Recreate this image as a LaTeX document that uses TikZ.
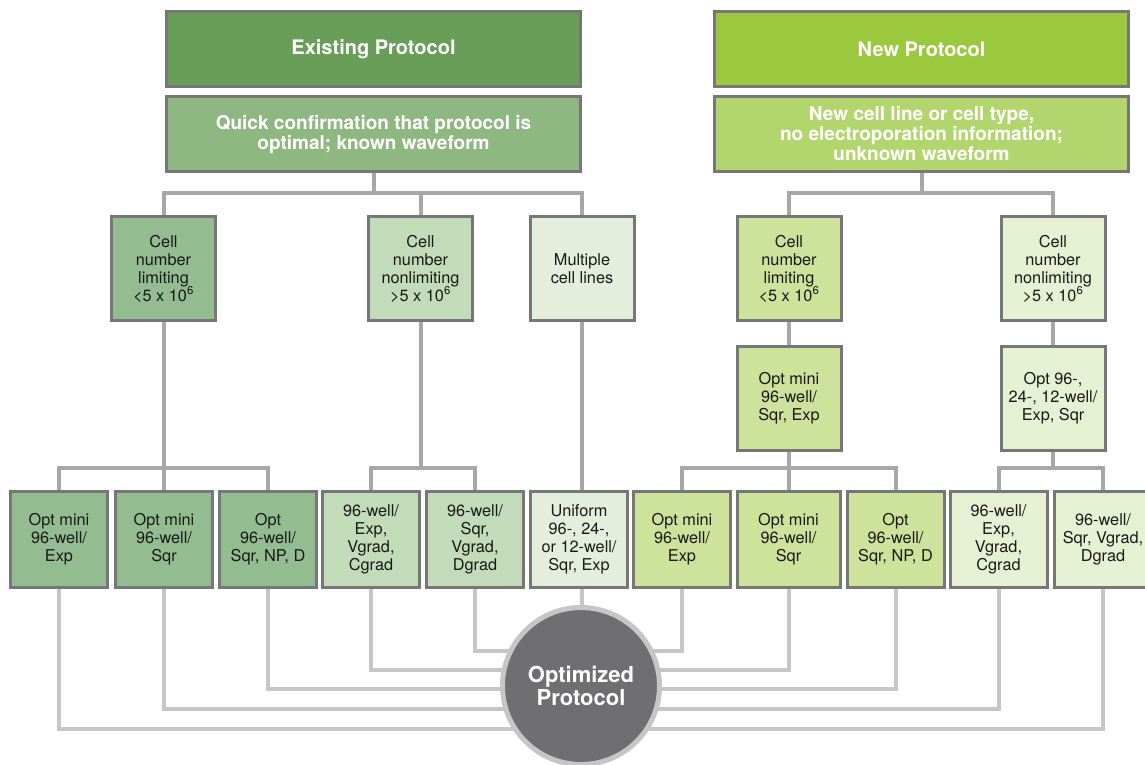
\documentclass[tikz,border=0pt]{standalone}
\usepackage{fontspec}
\setmainfont{TeX Gyre Heros}
\usetikzlibrary{backgrounds}
\definecolor{exgreen}{HTML}{689E57}
\definecolor{exlight}{HTML}{8FB782}
\definecolor{exlim}{HTML}{93BC90}
\definecolor{exnon}{HTML}{C2DBB8}
\definecolor{exmulti}{HTML}{E3EFDC}
\definecolor{nwgreen}{HTML}{9AC93D}
\definecolor{nwlight}{HTML}{B2D66D}
\definecolor{nwlim}{HTML}{CDE29B}
\definecolor{nwnon}{HTML}{E6F0D3}
\definecolor{boxedge}{HTML}{777777}
\definecolor{linkgray}{HTML}{A7A7A7}
\definecolor{outgray}{HTML}{C6C6C6}
\definecolor{optfill}{HTML}{6F6F71}

\begin{document}
\begin{tikzpicture}[x=1pt, y=-1pt,
					head box/.style={draw=boxedge, line width=3pt, minimum width=414pt, minimum height=75pt, inner sep=0pt, text=white, align=center, font=\fontsize{20}{22}\selectfont\bfseries},
					sub box/.style={head box, font=\fontsize{19}{20}\selectfont\bfseries},
					cell box/.style={draw=boxedge, line width=3pt, minimum size=104pt, inner sep=0pt, align=center, text=black!90, font=\fontsize{16.3}{18}\selectfont},
					well box/.style={cell box, minimum width=97pt, minimum height=96pt},
					link/.style={draw=linkgray, line width=4pt},
					out link/.style={draw=outgray, line width=4pt},
					result circle/.style={circle, draw=outgray, line width=5pt, fill=optfill, minimum size=157pt, inner sep=0pt, text=white, align=center, font=\fontsize{22}{23.5}\selectfont\bfseries},
				]
					\useasboundingbox (0,0) rectangle (1145,764);

					\node[head box, fill=exgreen] (exist) at (373.5,49) {Existing Protocol};
					\node[sub box, fill=exlight] (quick) at (373.5,134) {Quick confirmation that protocol is\\optimal; known waveform};
					\node[head box, fill=nwgreen] (new) at (921.5,49) {New Protocol};
					\node[sub box, fill=nwlight] (newcell) at (921.5,134) {New cell line or cell type,\\no electroporation information;\\unknown waveform};

					\node[cell box, fill=exlim] (exlimit) at (163.5,268.5) {Cell\\number\\limiting\\<5 x 10\textsuperscript{6}};
					\node[cell box, fill=exnon] (exnonlim) at (420.5,268.5) {Cell\\number\\nonlimiting\\>5 x 10\textsuperscript{6}};
					\node[cell box, fill=exmulti] (multi) at (582,268.5) {Multiple\\cell lines};
					\node[cell box, fill=nwlim] (nwlimit) at (789,268.5) {Cell\\number\\limiting\\<5 x 10\textsuperscript{6}};
					\node[cell box, fill=nwnon] (nwnonlim) at (1053,268.5) {Cell\\number\\nonlimiting\\>5 x 10\textsuperscript{6}};

					\node[cell box, fill=nwlim] (nwmini) at (789,398.5) {Opt mini\\96-well/\\Sqr, Exp};
					\node[cell box, fill=nwnon] (nwmulti) at (1053,398.5) {Opt 96-,\\24-, 12-well/\\Exp, Sqr};

					\node[well box, fill=exlim] (w1) at (59,539.5) {Opt mini\\96-well/\\Exp};
					\node[well box, fill=exlim] (w2) at (164,539.5) {Opt mini\\96-well/\\Sqr};
					\node[well box, fill=exlim] (w3) at (268,539.5) {Opt\\96-well/\\Sqr, NP, D};
					\node[well box, fill=exnon] (w4) at (371,539.5) {96-well/\\Exp,\\Vgrad,\\Cgrad};
					\node[well box, fill=exnon] (w5) at (475,539.5) {96-well/\\Sqr,\\Vgrad,\\Dgrad};
					\node[well box, fill=exmulti] (w6) at (579,539.5) {Uniform\\96-, 24-,\\or 12-well/\\Sqr, Exp};
					\node[well box, fill=nwlim] (w7) at (682,539.5) {Opt mini\\96-well/\\Exp};
					\node[well box, fill=nwlim, minimum width=103pt] (w8) at (788.5,539.5) {Opt mini\\96-well/\\Sqr};
					\node[well box, fill=nwlim] (w9) at (895.5,539.5) {Opt\\96-well/\\Sqr, NP, D};
					\node[well box, fill=nwnon] (w10) at (998.5,539.5) {96-well/\\Exp,\\Vgrad,\\Cgrad};
					\node[well box, fill=nwnon] (w11) at (1103,539.5) {96-well/\\Sqr, Vgrad,\\Dgrad};

					\node[result circle] (opt) at (581,686) {Optimized\\Protocol};

					\begin{scope}[on background layer]
						\draw[link] (quick.south) -- ++(0,20) -| (exlimit.north);
						\draw[link] (quick.south) -- ++(0,20) -| (exnonlim.north);
						\draw[link] (quick.south) -- ++(0,20) -| (multi.north);
						\draw[link] (newcell.south) -- ++(0,20) -| (nwlimit.north);
						\draw[link] (newcell.south) -- ++(0,20) -| (nwnonlim.north);
						\draw[link] (nwlimit) -- (nwmini);
						\draw[link] (nwnonlim) -- (nwmulti);

						\draw[link] (exlimit.south) -- ++(0,146) -| (w1.north);
						\draw[link] (exlimit.south) -- ++(0,146) -| (w2.north);
						\draw[link] (exlimit.south) -- ++(0,146) -| (w3.north);
						\draw[link] (exnonlim.south) -- ++(0,146) -| (w4.north);
						\draw[link] (exnonlim.south) -- ++(0,146) -| (w5.north);
						\draw[link] (multi.south) -- (multi.south |- w6.north);
						\draw[link] (nwmini.south) -- ++(0,16) -| (w7.north);
						\draw[link] (nwmini.south) -- ++(0,16) -| (w8.north);
						\draw[link] (nwmini.south) -- ++(0,16) -| (w9.north);
						\draw[link] (nwmulti.south) -- ++(0,16) -| (w10.north);
						\draw[link] (nwmulti.south) -- ++(0,16) -| (w11.north);

						\draw[out link] (w1.south) |- ([yshift=-43pt]opt.center);
						\draw[out link] (w2.south) |- ([yshift=-23pt]opt.center);
						\draw[out link] (w3.south) |- ([yshift=-3pt]opt.center);
						\draw[out link] (w4.south) |- ([yshift=16pt]opt.center);
						\draw[out link] (w5.south) |- ([yshift=35pt]opt.center);
						\draw[out link] (w6.south -| multi.south) -- (opt);
						\draw[out link] (w7.south) |- ([yshift=35pt]opt.center);
						\draw[out link] (w8.south) |- ([yshift=16pt]opt.center);
						\draw[out link] (w9.south) |- ([yshift=-3pt]opt.center);
						\draw[out link] (w10.south) |- ([yshift=-23pt]opt.center);
						\draw[out link] (w11.south) |- ([yshift=-43pt]opt.center);
					\end{scope}
				\end{tikzpicture}
\end{document}
